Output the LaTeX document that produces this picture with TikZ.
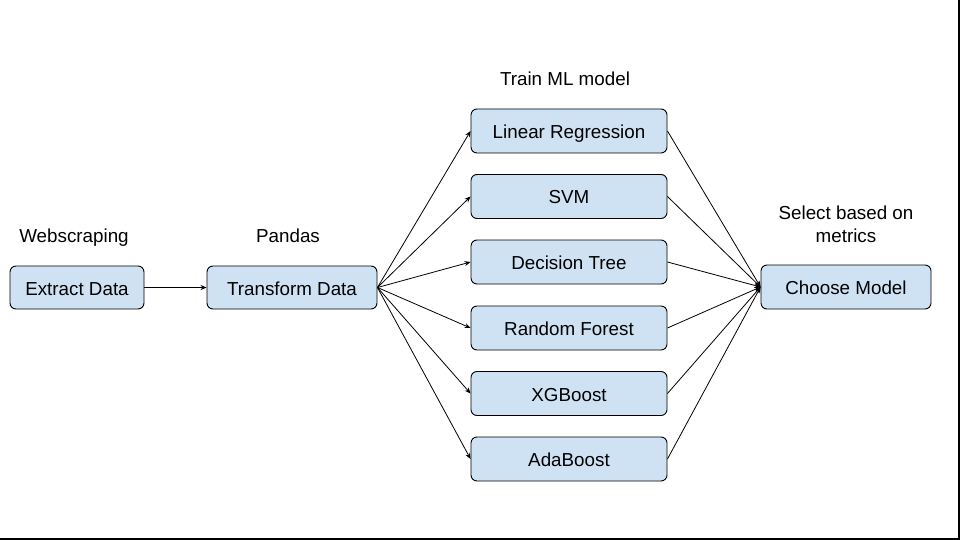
\documentclass[tikz,border=0pt]{standalone}
\usepackage{fontspec}
\setmainfont{Liberation Sans}
\usetikzlibrary{arrows.meta}
\definecolor{boxblue}{HTML}{CFE2F3}
\begin{document}
\begin{tikzpicture}[x=1pt,y=-1pt,
  box/.style={draw=black, fill=boxblue, rounded corners=6pt, line width=0.9pt, inner sep=0pt, text height=17pt, text depth=2pt, font=\fontsize{18.8}{22}\selectfont},
  lbl/.style={font=\fontsize{18.8}{23}\selectfont, align=center, inner sep=0pt},
  conn/.style={-{Stealth[length=6pt,width=5pt]}, line width=0.8pt}]
\useasboundingbox (0,0) rectangle (960,540);
\fill[white] (0,0) rectangle (960,540);
\draw[line width=1.6pt] (959.2,0) -- (959.2,539.2) -- (0,539.2);

\node[box, minimum width=134pt, minimum height=43pt] (ext) at (77,287.5) {Extract Data};
\node[box, minimum width=170pt, minimum height=43pt] (tra) at (292,287.5) {Transform Data};
\node[box, minimum width=170pt, minimum height=44pt] (cho) at (846,287) {Choose Model};

\node[box, minimum width=196pt, minimum height=44pt] (lr) at (569,131) {Linear Regression};
\node[box, minimum width=196pt, minimum height=44pt] (svm) at (569,196.5) {SVM};
\node[box, minimum width=196pt, minimum height=44pt] (dt) at (569,262) {Decision Tree};
\node[box, minimum width=196pt, minimum height=44pt] (rf) at (569,328) {Random Forest};
\node[box, minimum width=196pt, minimum height=44pt] (xgb) at (569,393.5) {XGBoost};
\node[box, minimum width=196pt, minimum height=44pt] (ada) at (569,459) {AdaBoost};

\node[lbl, text height=17pt, text depth=2pt] (l1) at (74,234.5) {Webscraping};
\node[lbl, text height=17pt, text depth=2pt] (l2) at (288,234.5) {Pandas};
\node[lbl, text height=17pt, text depth=2pt] (l3) at (565,78) {Train ML model};
\node[lbl] (l4) at (846,224) {Select based on\\metrics};

\draw[conn] (ext.east) -- (tra.west);
\foreach \n in {lr,svm,dt,rf,xgb,ada}{
  \draw[conn] (tra.east) -- (\n.west);
  \draw[conn] (\n.east) -- (cho.west);
}
\end{tikzpicture}
\end{document}
